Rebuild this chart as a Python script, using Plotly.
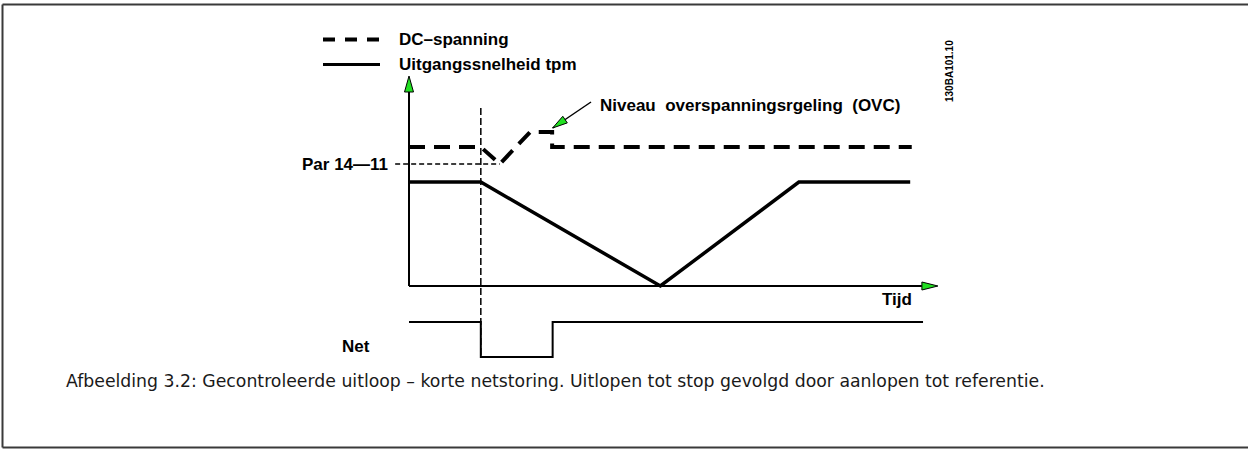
import plotly.graph_objects as go

# ---- diagram data: time in % of time axis, levels in arbitrary units ----
t_dc = [0, 14, 17.7, 23.6, 27.9, 27.9, 98]
v_dc = [139, 139, 122, 154, 154, 139, 139]

t_speed = [0, 14, 49, 76, 97.7]
v_speed = [104, 104, 0, 104, 104]

t_net = [0, 14, 14, 28, 28, 100.2]
v_net = [-36, -36, -71, -71, -36, -36]

t_loss = 14            # mains failure moment
v_loss_top, v_loss_bottom = 178, -71
par_14_11 = 122        # Par 14-11 level
t_par = [-2.7, 17.7]
t_ovc, v_ovc = 27.9, 154

legend_names = ["DC\u2013spanning", "Uitgangssnelheid tpm"]
caption = ("Afbeelding 3.2: Gecontroleerde uitloop \u2013 korte netstoring. "
           "Uitlopen tot stop gevolgd door aanlopen tot referentie.")

# ---- page geometry ----
W, H = 1248, 450
X0, Y0 = 409, 286      # origin of diagram in px
PX_T = 5.13            # px per time unit
PX_V = 1.0             # px per level unit


def px_of(t):
    return X0 + t * PX_T


def py_of(v):
    return Y0 - v * PX_V


def to_t(px):
    return (px - X0) / PX_T


def to_v(py):
    return (Y0 - py) / PX_V


def head(tip_t, tip_v, from_t, from_v, length=16, half=4.5):
    tx, ty = px_of(tip_t), py_of(tip_v)
    fx, fy = px_of(from_t), py_of(from_v)
    dx, dy = tx - fx, ty - fy
    n = (dx * dx + dy * dy) ** 0.5
    ux, uy = dx / n, dy / n
    bx, by = tx - ux * length, ty - uy * length
    xs = [tx, bx - uy * half, bx + uy * half, tx]
    ys = [ty, by + ux * half, by - ux * half, ty]
    return [to_t(p) for p in xs], [to_v(p) for p in ys]


BLACK = "#000000"
GREEN = "#22e022"
FONT = "Liberation Sans, Arial, sans-serif"

fig = go.Figure()


def line(x, y, width, dash="solid", color=BLACK):
    fig.add_trace(go.Scatter(x=x, y=y, mode="lines", hoverinfo="skip",
                             line=dict(color=color, width=width, dash=dash),
                             showlegend=False))


def tri(x, y):
    fig.add_trace(go.Scatter(x=x, y=y, mode="lines", fill="toself",
                             fillcolor=GREEN, hoverinfo="skip",
                             line=dict(color=BLACK, width=1),
                             showlegend=False))


# axes with arrows
t_axis_tip, v_axis_tip = 103.1, 210
line([0, t_axis_tip - 16 / PX_T], [0, 0], 2)
line([0, 0], [0, v_axis_tip - 16 / PX_V], 2)
tri(*head(t_axis_tip, 0, 0, 0, length=16, half=4))
tri(*head(0, v_axis_tip, 0, 0, length=16, half=4.5))

# mains failure marker and Par 14-11 reference
line([t_loss, t_loss], [v_loss_top, v_loss_bottom], 1.5, dash="7px,3px")
line(t_par, [par_14_11, par_14_11], 1.5, dash="5px,3px")

# signals
line(t_speed, v_speed, 3.5)
line(t_dc, v_dc, 4, dash="16px,9px")
line(t_net, v_net, 2)

# OVC pointer
ovc_from_t, ovc_from_v = to_t(591), to_v(102)
ovc_tip_t, ovc_tip_v = t_ovc + 0.1, v_ovc + 4
line([ovc_from_t, ovc_tip_t], [ovc_from_v, ovc_tip_v], 1.5)
tri(*head(ovc_tip_t, ovc_tip_v, ovc_from_t, ovc_from_v, length=15, half=4))


def px(x):
    return x / W


def py(y):
    return 1 - y / H


shapes = [
    # frame (left, top, bottom)
    dict(type="line", xref="paper", yref="paper", x0=px(2.5), x1=px(2.5),
         y0=py(4.5), y1=py(447.5), line=dict(color="#3a3a3a", width=2)),
    dict(type="line", xref="paper", yref="paper", x0=px(2.5), x1=1,
         y0=py(4.5), y1=py(4.5), line=dict(color="#3a3a3a", width=2)),
    dict(type="line", xref="paper", yref="paper", x0=px(2.5), x1=1,
         y0=py(447.5), y1=py(447.5), line=dict(color="#3a3a3a", width=2)),
    # legend samples
    dict(type="line", xref="paper", yref="paper", x0=px(323), x1=px(380),
         y0=py(39.5), y1=py(39.5), line=dict(color=BLACK, width=4, dash="12px,10px")),
    dict(type="line", xref="paper", yref="paper", x0=px(323), x1=px(380),
         y0=py(64.5), y1=py(64.5), line=dict(color=BLACK, width=3)),
]

lbl = dict(family=FONT, size=17, color=BLACK, weight="bold")


def text(x, y, s, xanchor="left", font=lbl, angle=0):
    fig.add_annotation(xref="paper", yref="paper", x=px(x), y=py(y), text=s,
                       showarrow=False, xanchor=xanchor, yanchor="middle",
                       font=font, textangle=angle)


nb = "\u00a0"
text(397, 39, legend_names[0])
text(397, 64, legend_names[1])
text(598, 106, "Niveau" + nb * 2 + "overspanningsrgeling" + nb * 2 + "(OVC)")
text(390, 164, "Par 14\u201411", xanchor="right")
text(880, 299, "Tijd")
text(340, 346, "Net")
text(949, 71, "130BA101.10", xanchor="center",
     font=dict(family=FONT, size=10, color=BLACK, weight="bold"), angle=-90)
text(64, 381, caption, font=dict(family="DejaVu Sans, Verdana, sans-serif",
                                 size=17.3, color="#1a1a1a"))

fig.update_layout(
    width=W, height=H,
    margin=dict(l=0, r=0, t=0, b=0),
    paper_bgcolor="white", plot_bgcolor="white",
    xaxis=dict(range=[to_t(0), to_t(W)], visible=False, fixedrange=True),
    yaxis=dict(range=[to_v(H), to_v(0)], visible=False, fixedrange=True),
    shapes=shapes,
    showlegend=False,
)

fig.write_html("out.html", config={"displayModeBar": False},
               post_script="document.body.style.margin='0';")
